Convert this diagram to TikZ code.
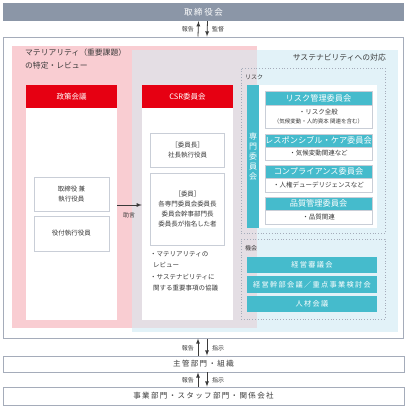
\documentclass[tikz,border=0pt]{standalone}
\usepackage{fontspec}
\setmainfont{Noto Sans CJK JP}
\newfontfamily\spaced[LetterSpace=18]{Noto Sans CJK JP}
\definecolor{boardgray}{HTML}{8B96A7}
\definecolor{linegray}{HTML}{A5ACBA}
\definecolor{boxline}{HTML}{C9CED7}
\definecolor{pinkbg}{HTML}{F9CDD2}
\definecolor{bluebg}{HTML}{E2F2F8}
\definecolor{overlapbg}{HTML}{E4DEE4}
\definecolor{cred}{HTML}{E60012}
\definecolor{teal}{HTML}{45BBCC}
\definecolor{txt}{HTML}{3A3A3A}

\begin{document}
\begin{tikzpicture}[x=1pt, y=-1pt, text=txt, inner sep=0pt,
  frame/.style={draw=linegray, line width=1pt, fill=white},
  innerbox/.style={draw=boxline, line width=0.8pt, fill=white, align=center, font=\fontsize{6.5}{10}\selectfont},
  redhead/.style={fill=cred, text=white, minimum width=91pt, minimum height=23pt, font=\fontsize{7.5}{8}\selectfont},
  column/.style={fill=white, minimum width=91pt, minimum height=235pt},
  tealhead/.style={fill=teal, text=white, draw=boxline, line width=0.6pt, minimum width=107pt, font=\fontsize{8.2}{9}\selectfont},
  tealbar/.style={fill=teal, text=white, minimum width=130pt, font=\spaced\fontsize{7.2}{8}\selectfont},
  bodybox/.style={innerbox, minimum width=107pt, line width=0.6pt},
  zone/.style={draw=linegray, dotted, line width=0.8pt, minimum width=144pt},
  small/.style={font=\fontsize{6}{8}\selectfont},
  arr/.style={-latex, line width=0.8pt, draw=txt}]
\useasboundingbox (0,0) rectangle (407,408);

% top and bottom levels
\node[fill=boardgray, text=white, minimum width=401pt, minimum height=18pt, font=\spaced\fontsize{8.5}{9}\selectfont] (board) at (203.5,12) {取締役会};
\node[frame, minimum width=400pt, minimum height=301pt] (outer) at (203,187.5) {};
\node[frame, line width=0.8pt, minimum width=401pt, minimum height=16pt, font=\spaced\fontsize{7.5}{8}\selectfont] (dept) at (203.5,364) {主管部門・組織};
\node[frame, line width=0.8pt, minimum width=401pt, minimum height=18pt, font=\spaced\fontsize{7.5}{8}\selectfont] (units) at (203.5,396) {事業部門・スタッフ部門・関係会社};

\draw[arr] ([xshift=-5pt]outer.north) -- ([xshift=-5pt]board.south);
\draw[arr] ([xshift=4pt]board.south) -- ([xshift=4pt]outer.north);
\node[small, anchor=east] at (194,29) {報告};
\node[small, anchor=west] at (212,29) {監督};
\draw[arr] ([xshift=-5.5pt]dept.north) -- ([xshift=-5pt]outer.south);
\draw[arr] ([xshift=4pt]outer.south) -- ([xshift=3.5pt]dept.north);
\node[small, anchor=east] at (194,348) {報告};
\node[small, anchor=west] at (212,348) {指示};
\draw[arr] ([xshift=-5.5pt]units.north) -- ([xshift=-5.5pt]dept.south);
\draw[arr] ([xshift=3.5pt]dept.south) -- ([xshift=3.5pt]units.north);
\node[small, anchor=east] at (194,380) {報告};
\node[small, anchor=west] at (212,380) {指示};

% backgrounds
\fill[pinkbg] (12,46) rectangle (257,328);
\fill[bluebg] (132,50) rectangle (398,332);
\fill[overlapbg] (132,50) rectangle (257,328);
\node[anchor=west, align=left, font=\fontsize{7.8}{13}\selectfont] at (25,58.5) {マテリアリティ（重要課題）\\の特定・レビュー};
\node[anchor=east, font=\fontsize{7.8}{9}\selectfont] at (386,58) {サステナビリティへの対応};

% policy meeting
\node[column] (policy) at (71.5,202.5) {};
\node[redhead] (policyhead) at (71.5,96.5) {政策会議};
\node[innerbox, minimum width=75pt, minimum height=34pt] (director) at (71.5,194) {取締役 兼\\執行役員};
\node[innerbox, minimum width=75pt, minimum height=35pt] (officer) at (71.5,233.5) {役付執行役員};

% CSR committee
\node[column] (csr) at (187.5,202.5) {};
\node[redhead] (csrhead) at (187.5,96.5) {CSR委員会};
\node[innerbox, minimum width=74pt, minimum height=34pt] (chair) at (187.5,150) {［委員長］\\社長執行役員};
\node[innerbox, minimum width=74pt, minimum height=72pt] (members) at (187.5,209) {［委員］\\各専門委員会委員長\\委員会幹事部門長\\委員長が指名した者};
\node[anchor=north west, align=left, font=\fontsize{6.5}{11.5}\selectfont] (tasks) at (150,251) {・マテリアリティの\\\ \ レビュー\\・サステナビリティに\\\ \ 関する重要事項の協議};

\draw[arr] ([yshift=-2.5pt]policy.east) -- ([yshift=-2.5pt]csr.west);
\node[small] at (129,215) {助言};

% risk
\node[zone, minimum height=165pt] (risk) at (313,150.5) {};
\node[small, anchor=west] at (245,77) {リスク};
\fill[white] (259,85) rectangle (377,228);
\node[fill=teal, text=white, minimum width=12pt, minimum height=143pt, align=center, font=\fontsize{8}{10}\selectfont] (expert) at (253,156.5) {専\\門\\委\\員\\会};

\node[tealhead, minimum height=14pt] (riskmgmt) at (318.5,98) {リスク管理委員会};
\node[bodybox, minimum height=23pt, font=\fontsize{6.5}{9}\selectfont] (riskbody) at (318.5,116.5) {・リスク全般\\{\fontsize{5.5}{6}\selectfont（気候変動・人的資本 関連を含む）}};
\node[tealhead, minimum height=13pt] (rc) at (318.5,140.5) {レスポンシブル・ケア委員会};
\node[bodybox, minimum height=13pt] (rcbody) at (318.5,153.5) {・気候変動関連など};
\node[tealhead, minimum height=13pt] (comp) at (318.5,171.5) {コンプライアンス委員会};
\node[bodybox, minimum height=14pt] (compbody) at (318.5,185) {・人権デューデリジェンスなど};
\node[tealhead, minimum height=13pt] (quality) at (318.5,203.5) {品質管理委員会};
\node[bodybox, minimum height=14pt] (qualitybody) at (318.5,217) {・品質関連};

% opportunity
\node[zone, minimum height=80pt] (chance) at (313,279) {};
\node[small, anchor=west] at (245,248) {機会};
\node[tealbar, minimum height=16pt] (review) at (312,265) {経営審議会};
\node[tealbar, minimum height=17pt] (exec) at (312,284.5) {経営幹部会議／重点事業検討会};
\node[tealbar, minimum height=16pt] (hr) at (312,304) {人材会議};

\end{tikzpicture}
\end{document}
